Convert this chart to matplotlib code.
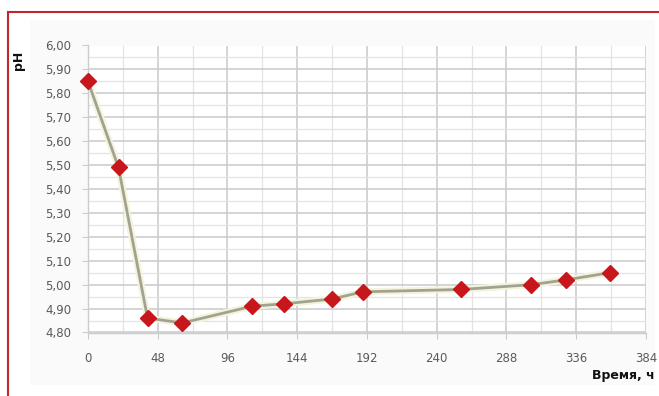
import matplotlib
matplotlib.use('Agg')
import matplotlib.pyplot as plt
from matplotlib.patches import Rectangle
from matplotlib.ticker import MultipleLocator, FuncFormatter

# время отбора проб, ч и значения pH
hours = [0, 21, 41, 65, 113, 135, 168, 189, 257, 305, 329, 359]
ph = [5.85, 5.49, 4.86, 4.84, 4.91, 4.92, 4.94, 4.97, 4.98, 5.00, 5.02, 5.05]

x_ticks = [0, 48, 96, 144, 192, 240, 288, 336, 384]

fig = plt.figure(figsize=(6.59, 3.96), dpi=100)
fig.patch.set_facecolor('white')

# светлая подложка области диаграммы и красная рамка
fig.patches.append(Rectangle((30 / 659, 1 - 385 / 396), 625 / 659, 365 / 396,
                             transform=fig.transFigure, facecolor='#fafafa',
                             edgecolor='none', zorder=-2))
fig.patches.append(Rectangle((7.5 / 659, -0.05), 1.2, 1 - 11.5 / 396 + 0.05,
                             transform=fig.transFigure, facecolor='none',
                             edgecolor='#c0262d', lw=1.5, zorder=-1))

ax = fig.add_axes([88 / 659, 1 - 332.5 / 396, 558 / 659, 287 / 396])
ax.set_facecolor('white')

ax.set_xlim(0, 384)
ax.set_ylim(4.80, 6.00)
ax.set_xticks(x_ticks)
ax.xaxis.set_minor_locator(MultipleLocator(24))
ax.yaxis.set_major_locator(MultipleLocator(0.10))
ax.yaxis.set_minor_locator(MultipleLocator(0.05))
ax.yaxis.set_major_formatter(FuncFormatter(lambda v, p: ('%.2f' % v).replace('.', ',')))

ax.grid(which='major', color='#cdcdcd', lw=1.2)
ax.grid(which='minor', color='#e3e3e3', lw=0.9)
ax.set_axisbelow(True)

for s in ['top', 'right']:
    ax.spines[s].set_visible(False)
for s in ['left', 'bottom']:
    ax.spines[s].set_color('#cccccc')
    ax.spines[s].set_linewidth(1.0)

ax.tick_params(which='major', length=4, color='#cccccc', labelsize=8.5,
               labelcolor='#5a5a5a')
ax.tick_params(which='minor', length=0)
ax.tick_params(axis='x', pad=10)
ax.tick_params(axis='y', pad=8)

ax.plot(hours, ph, color='#f4f4dc', lw=5, zorder=2, solid_capstyle='round')
ax.plot(hours, ph, color='#a2a292', lw=2.0, zorder=3)
ax.plot(hours, ph, linestyle='none', marker='D', markersize=8.5,
        color='#c8161d', zorder=4, clip_on=False)

fig.text(18 / 659, 1 - 60 / 396, 'pH', rotation=90, ha='center', va='center',
         fontsize=9, fontweight='bold', color='#111111')
fig.text(655 / 659, 1 - 376 / 396, 'Время, ч', ha='right', va='center',
         fontsize=9, fontweight='bold', color='#111111')

fig.savefig('out.png', dpi=100)
